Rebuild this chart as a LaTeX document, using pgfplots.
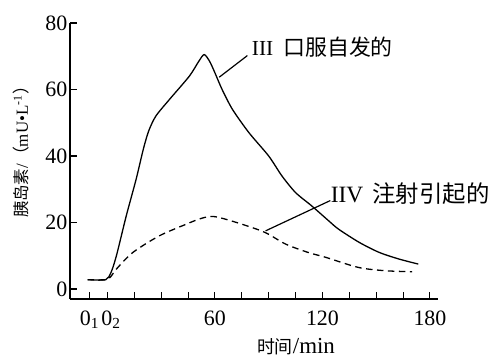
\documentclass[border=0pt]{standalone}
\usepackage{fontspec}
\setmainfont{Liberation Serif}
\newfontfamily\cjk{Noto Sans CJK SC}
\usepackage{pgfplots}
\pgfplotsset{compat=1.18}
\begin{document}
\begin{tikzpicture}
\begin{axis}[
  name=ax,
  scale only axis,
  width=368bp, height=276bp,
  xmin=-20.9, xmax=184.5, ymin=-3.0, ymax=80,
  axis lines=left,
  axis line style={-, line width=1.3bp},
  tick align=inside,
  major tick length=7bp,
  tick style={line width=1.1bp, black},
  xtick={-10,0,15,30,45,60,75,90,105,120,135,150,165,180},
  xticklabels={0\textsubscript{1},\hspace*{7bp}0\textsubscript{2},,,,60,,,,120,,,,180},
  ytick={0,20,40,60,80},
  /pgf/number format/assume math mode=true,
  tick label style={font=\fontsize{22}{22}\selectfont, inner sep=1.5bp},
  xticklabel style={yshift=-10bp},
  yticklabel style={xshift=-1bp},
  clip=false,
]
\addplot[black, line width=1.3bp, smooth, tension=0.45] coordinates {
  (-11,2.8) (-1,2.8) (2,5) (5,10) (10.5,22) (16,33) (20,42) (23,47.5) (27,52)
  (34.6,57) (45.7,64) (51,68.5) (54,70.5) (57,68.5) (60,65) (64,60) (69.8,54)
  (79,47) (90,40) (97.4,34) (105,29) (114,25) (123.5,20.5) (129,18)
  (140.6,14) (151.7,11) (162.8,9) (173.5,7.5)
};
\addplot[black, line width=1.3bp, dash pattern=on 6.5bp off 4.5bp, smooth, tension=0.5] coordinates {
  (-11,2.8) (-1,2.8) (2,3.8) (5,6) (14.2,11) (29,16) (44,19.5) (51,21)
  (57,21.8) (62.4,21.5) (75,19.5) (88,17) (99.5,13.5) (112,11) (122,9.5)
  (140,6.5) (155,5.5) (170,5.2)
};
\draw[black, line width=1.2bp] (axis cs:62.4,63.7) -- (axis cs:78.1,70.2);
\draw[black, line width=1.2bp] (axis cs:88.3,17.5) -- (axis cs:124.4,26.6);
\node[anchor=west, inner sep=0pt, font=\fontsize{21.5}{21.5}\selectfont] at (axis cs:80.5,72.8) {III\hspace{10bp}{\cjk\fontsize{22}{22}\selectfont 口服自发的}};
\node[anchor=west, inner sep=0pt, font=\fontsize{23.5}{23.5}\selectfont] at (axis cs:124.6,28.6) {IIV\hspace{9bp}{\cjk\fontsize{23.5}{23.5}\selectfont 注射引起的}};
\end{axis}
\node[rotate=90, inner sep=0pt, font=\fontsize{17}{17}\selectfont] at ([xshift=-48.5bp, yshift=13bp]ax.west) {{\cjk\fontsize{16.5}{16.5}\selectfont 胰岛素}/{\cjk （}mU•L\textsuperscript{-1}{\cjk ）}};
\node[inner sep=0pt, font=\fontsize{23}{23}\selectfont] at ([xshift=42bp, yshift=-48bp]ax.south) {{\cjk\fontsize{18}{18}\selectfont 时间}/min};
\pgfresetboundingbox
\path[use as bounding box] ([xshift=-70bp,yshift=-62bp]ax.south west) rectangle ([xshift=55bp,yshift=23bp]ax.north east);
\end{tikzpicture}
\end{document}
